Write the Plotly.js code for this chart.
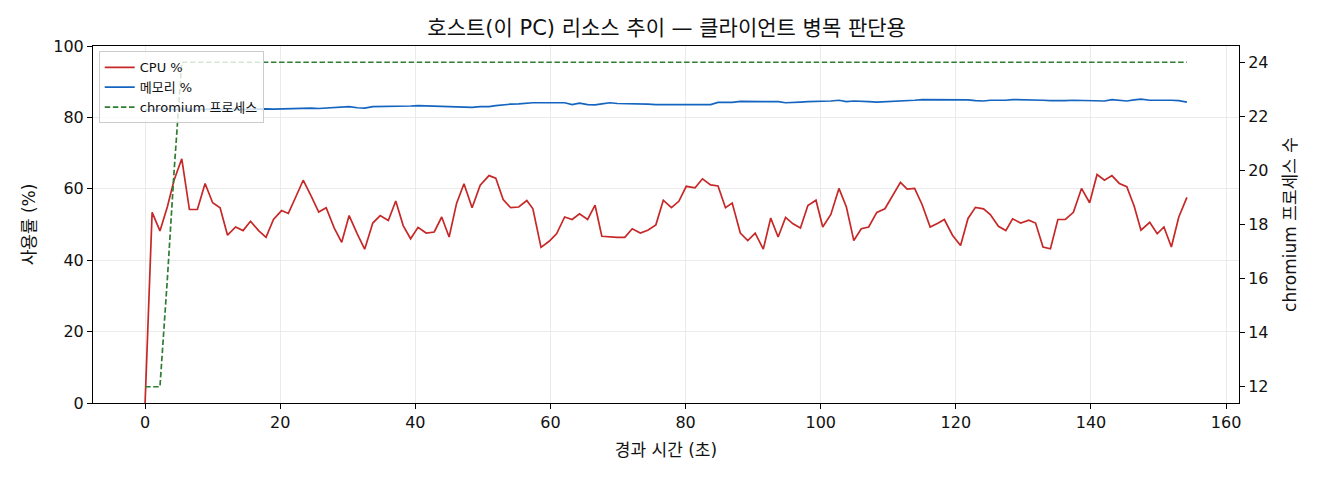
<!DOCTYPE html>
<html>
<head>
<meta charset="utf-8">
<script src="https://cdn.plot.ly/plotly-3.0.1.min.js"></script>
<style>
  html, body { margin: 0; padding: 0; background: #fff; }
  #chart { width: 1320px; height: 480px; }
</style>
</head>
<body>
<div id="chart"></div>
<script>
// elapsed seconds of each sample
const elapsed = [
  0, 1.04, 2.2, 3.3, 4.3, 5.43, 6.56, 7.74, 8.88, 10.0, 11.1, 12.2, 13.4, 14.5, 15.6, 16.8, 17.9, 19.0, 20.2, 21.2,
  22.3, 23.4, 24.6, 25.7, 26.8, 28.0, 29.1, 30.2, 31.4, 32.5, 33.7, 34.8, 36.0, 37.1, 38.2, 39.3, 40.4, 41.6, 42.8, 43.9,
  45.0, 46.1, 47.2, 48.4, 49.6, 50.9, 51.9, 53.0, 54.1, 55.3, 56.5, 57.4, 58.6, 59.8, 60.9, 62.1, 63.2, 64.3, 65.5, 66.6,
  67.6, 68.8, 69.9, 71.0, 72.1, 73.3, 74.4, 75.6, 76.7, 77.9, 79.0, 80.1, 81.4, 82.5, 83.7, 84.8, 85.9, 86.9, 88.1, 89.2,
  90.3, 91.5, 92.6, 93.7, 94.8, 95.9, 97.0, 98.1, 99.3, 100.3, 101.5, 102.7, 103.8, 104.9, 106.0, 107.1, 108.3, 109.5, 110.6, 111.8,
  112.8, 113.9, 115.0, 116.2, 117.4, 118.3, 119.5, 120.7, 121.8, 122.9, 124.1, 125.1, 126.3, 127.4, 128.4, 129.6, 130.8, 131.8, 132.9, 134.0,
  135.1, 136.2, 137.4, 138.6, 139.8, 140.9, 142.0, 143.1, 144.2, 145.3, 146.4, 147.4, 148.7, 149.8, 150.8, 151.9, 153.0, 154.2
];

const cpuPct = [
  0, 53.4, 48.2, 55.0, 62.5, 68.4, 54.2, 54.2, 61.5, 56.1, 54.7, 47.0, 49.3, 48.3, 50.9, 48.3, 46.4, 51.4, 53.9, 53.1,
  57.7, 62.4, 57.9, 53.5, 54.7, 49.0, 45.0, 52.5, 47.4, 43.1, 50.4, 52.5, 51.1, 56.6, 49.7, 46.0, 49.2, 47.6, 47.9, 52.1,
  46.5, 55.9, 61.4, 54.7, 61.0, 63.7, 63.0, 57.0, 54.7, 54.9, 56.7, 54.4, 43.6, 45.3, 47.4, 52.1, 51.4, 53.0, 51.4, 55.4,
  46.7, 46.5, 46.4, 46.4, 48.8, 47.6, 48.4, 49.9, 56.8, 54.7, 56.5, 60.7, 60.3, 62.8, 61.1, 60.8, 54.7, 56.0, 47.6, 45.5,
  47.6, 43.1, 51.8, 46.5, 52.0, 50.2, 49.0, 55.3, 56.8, 49.3, 52.8, 60.1, 54.9, 45.5, 48.8, 49.3, 53.4, 54.4, 57.9, 61.8,
  59.9, 60.1, 55.6, 49.3, 50.4, 51.4, 47.0, 44.1, 51.7, 54.8, 54.4, 52.8, 49.5, 48.3, 51.6, 50.4, 51.2, 50.4, 43.7, 43.2,
  51.4, 51.4, 53.4, 60.1, 56.1, 64.0, 62.4, 63.7, 61.5, 60.6, 55.1, 48.4, 50.6, 47.4, 49.3, 43.7, 52.1, 57.6
];

const memPct = [
  82.1, 82.2, 82.2, 82.3, 82.2, 82.3, 82.3, 82.2, 82.3, 82.3, 82.2, 82.3, 82.3, 82.2, 82.3, 82.3, 82.4, 82.3, 82.4, 82.3,
  82.5, 82.6, 82.6, 82.5, 82.6, 82.8, 83.0, 83.0, 82.7, 82.6, 83.0, 83.0, 83.0, 83.1, 83.1, 83.2, 83.3, 83.2, 83.2, 83.1,
  82.9, 83.0, 82.8, 82.8, 83.0, 83.0, 83.3, 83.6, 83.7, 83.8, 84.0, 84.1, 84.1, 84.1, 84.1, 84.1, 83.6, 84.0, 83.6, 83.5,
  83.8, 84.1, 83.9, 83.9, 83.8, 83.8, 83.7, 83.6, 83.6, 83.6, 83.7, 83.7, 83.7, 83.8, 83.6, 84.2, 84.2, 84.2, 84.5, 84.5,
  84.5, 84.4, 84.4, 84.4, 84.1, 84.3, 84.3, 84.4, 84.4, 84.6, 84.6, 84.8, 84.4, 84.6, 84.4, 84.4, 84.3, 84.4, 84.4, 84.6,
  84.7, 84.8, 85.0, 85.0, 85.0, 85.0, 85.0, 84.9, 84.9, 84.7, 84.6, 84.8, 84.7, 84.8, 85.0, 85.0, 84.8, 84.9, 84.8, 84.7,
  84.6, 84.7, 84.8, 84.8, 84.7, 84.6, 84.6, 85.0, 84.9, 84.6, 84.9, 85.1, 84.8, 84.9, 84.8, 84.8, 84.7, 84.3
];

const chromiumProcs = [
  12, 12, 12, 16, 20,
  24, 24, 24, 24, 24, 24, 24, 24, 24, 24, 24, 24, 24, 24, 24, 24, 24, 24, 24,
  24, 24, 24, 24, 24, 24, 24, 24, 24, 24, 24, 24, 24, 24, 24, 24, 24, 24, 24,
  24, 24, 24, 24, 24, 24, 24, 24, 24, 24, 24, 24, 24, 24, 24, 24, 24, 24, 24,
  24, 24, 24, 24, 24, 24, 24, 24, 24, 24, 24, 24, 24, 24, 24, 24, 24, 24, 24,
  24, 24, 24, 24, 24, 24, 24, 24, 24, 24, 24, 24, 24, 24, 24, 24, 24, 24, 24,
  24, 24, 24, 24, 24, 24, 24, 24, 24, 24, 24, 24, 24, 24, 24, 24, 24, 24, 24,
  24, 24, 24, 24, 24, 24, 24, 24, 24, 24, 24, 24, 24, 24, 24, 24, 24, 24, 24
];

const FONT = 'DejaVu Sans, Noto Sans CJK KR, sans-serif';
const TICKS = { family: FONT, size: 16, color: '#111' };
const LABELS = { family: FONT, size: 17, color: '#111' };

const traces = [
  {
    x: elapsed, y: cpuPct, name: 'CPU %', type: 'scatter', mode: 'lines',
    line: { color: '#c62828', width: 1.7 }
  },
  {
    x: elapsed, y: memPct, name: '메모리 %', type: 'scatter', mode: 'lines',
    line: { color: '#1565c0', width: 1.7 }
  },
  {
    x: elapsed, y: chromiumProcs, name: 'chromium 프로세스', type: 'scatter', mode: 'lines',
    yaxis: 'y2',
    line: { color: '#2e7d32', width: 1.7, dash: '5.5px,2.6px' }
  }
];

const layout = {
  width: 1320, height: 480,
  margin: { l: 93, r: 81, t: 46, b: 77 },
  paper_bgcolor: '#fff', plot_bgcolor: '#fff',
  font: { family: FONT, size: 16, color: '#111' },
  showlegend: true,
  title: {
    text: '호스트(이 PC) 리소스 추이 — 클라이언트 병목 판단용',
    font: { family: FONT, size: 21, color: '#111' },
    x: 0.505, xanchor: 'center', yref: 'container', y: 0.942, yanchor: 'middle'
  },
  xaxis: {
    range: [-7.71, 161.91], dtick: 20, tick0: 0,
    showgrid: true, gridcolor: '#e6e6e6', gridwidth: 0.8, zeroline: false,
    showline: true, linecolor: '#000', linewidth: 1, mirror: true,
    ticks: 'outside', ticklen: 5, tickwidth: 1, tickcolor: '#000',
    tickfont: TICKS,
    title: { text: '경과 시간 (초)', font: LABELS, standoff: 12 }
  },
  yaxis: {
    range: [0, 100], dtick: 20,
    showgrid: true, gridcolor: '#e6e6e6', gridwidth: 0.8, zeroline: false,
    showline: true, linecolor: '#000', linewidth: 1, mirror: true,
    ticks: 'outside', ticklen: 5, tickwidth: 1, tickcolor: '#000',
    tickfont: TICKS,
    title: { text: '사용률 (%)', font: LABELS, standoff: 13 }
  },
  yaxis2: {
    overlaying: 'y', side: 'right',
    range: [11.4, 24.6], dtick: 2, tick0: 12,
    showgrid: false, zeroline: false,
    showline: true, linecolor: '#000', linewidth: 1,
    ticks: 'outside', ticklen: 5, tickwidth: 1, tickcolor: '#000',
    tickfont: TICKS,
    title: { text: 'chromium 프로세스 수', font: LABELS, standoff: 16 }
  },
  legend: {
    x: 0.005, y: 0.985, xanchor: 'left', yanchor: 'top',
    bgcolor: 'rgba(255,255,255,0.8)', bordercolor: '#cccccc', borderwidth: 1,
    font: { family: FONT, size: 13, color: '#111' },
    tracegroupgap: 0
  },
  hovermode: false
};

Plotly.newPlot('chart', traces, layout, { displayModeBar: false, staticPlot: true });
</script>
</body>
</html>
